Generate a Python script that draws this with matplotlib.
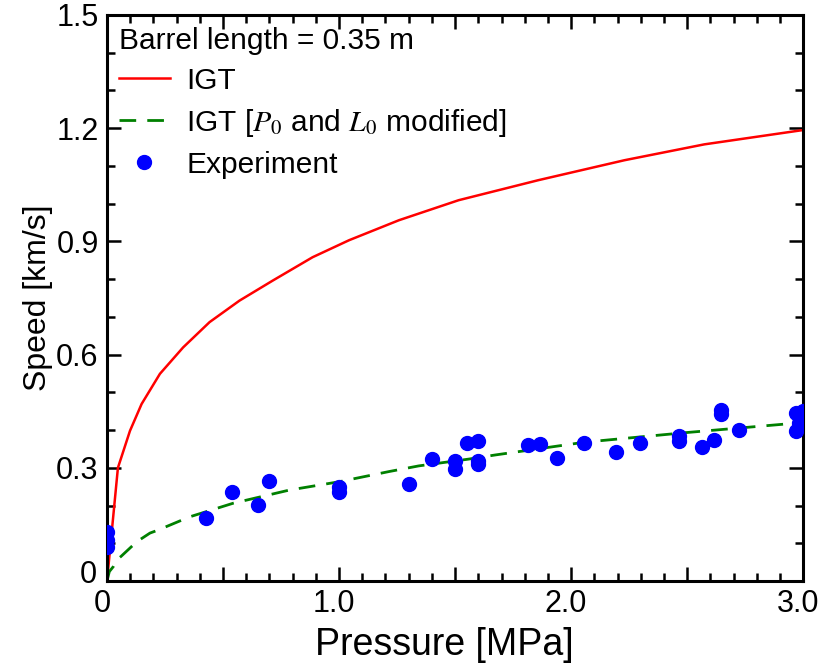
import numpy as np
import matplotlib
matplotlib.use("Agg")
import matplotlib.pyplot as plt
from matplotlib.ticker import MultipleLocator, FixedLocator, FixedFormatter
from matplotlib.transforms import ScaledTranslation

plt.rcParams["font.family"] = ["Liberation Sans", "DejaVu Sans"]
plt.rcParams["mathtext.fontset"] = "stix"

# IGT curve
p_igt = [0, 0.047, 0.099, 0.149, 0.228, 0.328, 0.442, 0.571, 0.714, 0.886,
         1.043, 1.258, 1.515, 1.858, 2.23, 2.574, 3.0]
v_igt = [0, 0.30, 0.398, 0.469, 0.549, 0.619, 0.686, 0.743, 0.796, 0.858,
         0.903, 0.956, 1.009, 1.062, 1.115, 1.157, 1.195]

# IGT with P0 and L0 modified
p_mod = [0, 0.01, 0.027, 0.042, 0.06, 0.128, 0.185, 0.22, 0.356, 0.543, 0.786,
         1.0, 1.215, 1.343, 1.558, 1.673, 2.06, 2.49, 3.0]
v_mod = [0, 0.025, 0.038, 0.056, 0.065, 0.104, 0.127, 0.135, 0.17, 0.206, 0.241,
         0.263, 0.29, 0.305, 0.323, 0.334, 0.368, 0.393, 0.42]

# experiment
p_exp = [0, 0, 0, 0.428, 0.54, 0.65, 0.70, 1.0, 1.0, 1.30, 1.40, 1.50, 1.50,
         1.55, 1.60, 1.60, 1.60, 1.815, 1.865, 1.94, 2.056, 2.195, 2.295,
         2.463, 2.463, 2.564, 2.614, 2.645, 2.645, 2.724, 2.97, 2.98, 2.97, 3.0]
v_exp = [0.09, 0.11, 0.13, 0.168, 0.236, 0.202, 0.265, 0.25, 0.237, 0.257, 0.323,
         0.317, 0.296, 0.365, 0.372, 0.319, 0.311, 0.361, 0.363, 0.327, 0.366,
         0.342, 0.366, 0.385, 0.372, 0.356, 0.373, 0.453, 0.443, 0.40, 0.444,
         0.42, 0.398, 0.45]

x_ticks = [0, 0.5, 1.0, 1.5, 2.0, 2.5, 3.0]
x_labels = ["0", "", "1.0", "", "2.0", "", "3.0"]
y_ticks = [0, 0.3, 0.6, 0.9, 1.2, 1.5]
y_labels = ["0", "0.3", "0.6", "0.9", "1.2", "1.5"]

fig = plt.figure(figsize=(8.2, 6.66), dpi=100)
ax = fig.add_axes([0.1305, 0.1276, 0.849, 0.85])

ax.plot(p_igt, v_igt, color="#ff0000", lw=1.8, label="IGT")
ax.plot(p_mod, v_mod, color="#008000", lw=2.0, dashes=(6, 4),
        label=r"IGT [$P_0$ and $L_0$ modified]")
ax.plot(p_exp, v_exp, "o", color="#0000ff", ms=10, mec="#0000ff",
        label="Experiment", zorder=3)

ax.set_xlim(0, 3.0)
ax.set_ylim(0, 1.5)

ax.xaxis.set_major_locator(FixedLocator(x_ticks))
ax.xaxis.set_major_formatter(FixedFormatter(x_labels))
ax.xaxis.set_minor_locator(MultipleLocator(0.1))
ax.yaxis.set_major_locator(FixedLocator(y_ticks))
ax.yaxis.set_major_formatter(FixedFormatter(y_labels))
ax.yaxis.set_minor_locator(MultipleLocator(0.1))

ax.tick_params(which="both", direction="in", top=True, right=True,
               width=1.8, labelsize=22, pad=6)
ax.tick_params(which="major", length=10)
ax.tick_params(which="minor", length=6)
for s in ax.spines.values():
    s.set_linewidth(2.2)

# x tick labels sit a little left of their ticks in the original,
# and the "0" on the y axis a bit above its tick
shift = ScaledTranslation(-0.05, 0, fig.dpi_scale_trans)
for t in ax.xaxis.get_major_ticks():
    t.label1.set_transform(t.label1.get_transform() + shift)
y0 = ax.yaxis.get_major_ticks()[0].label1
y0.set_transform(y0.get_transform() + ScaledTranslation(-0.02, 0.1, fig.dpi_scale_trans))

ax.set_xlabel("Pressure [MPa]", fontsize=27, va="top")
ax.xaxis.set_label_coords(0.484, -0.082)
ax.set_ylabel("Speed [km/s]", fontsize=23, labelpad=2)

leg = ax.legend(loc="upper left", frameon=False, fontsize=21.5,
                title="Barrel length = 0.35 m", title_fontsize=21.5,
                handlelength=1.7, handletextpad=0.55, labelspacing=0.4,
                borderaxespad=0.1, borderpad=0.3)
leg._legend_box.align = "left"

fig.savefig("out.png", dpi=100)
